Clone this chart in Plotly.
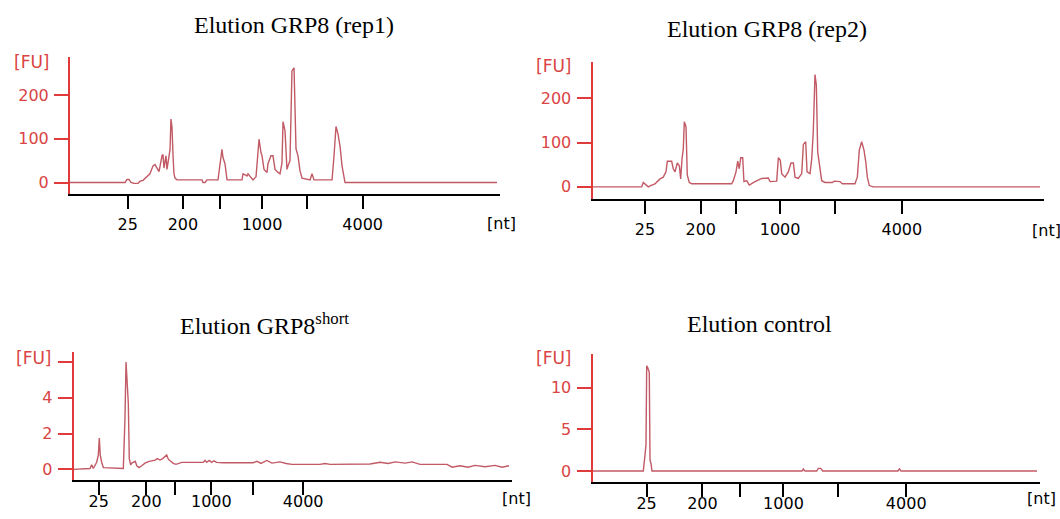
import plotly.graph_objects as go

W, H = 1060, 519

# ---------------- data (migration time [s] vs fluorescence [FU]) ----------------
rep1_time = [20.0, 24.65, 26.40, 26.63, 26.86, 27.09, 27.44, 27.91, 28.14, 28.49, 28.95, 29.30, 29.65, 29.88,
             30.12, 30.35, 30.70, 30.81, 30.93, 31.16, 31.28, 31.51, 31.63, 31.74, 31.86, 31.98, 32.09, 32.21,
             32.44, 35.35, 35.47, 35.70, 35.93, 37.21, 37.44, 37.67, 37.79, 38.02, 38.26, 40.00, 40.12, 40.58,
             40.70, 41.05, 41.28, 41.63, 41.86, 41.98, 42.21, 42.33, 42.56, 42.91, 43.02, 43.37, 43.60, 43.84,
             44.19, 44.42, 44.65, 44.77, 45.00, 45.23, 45.35, 45.58, 45.81, 46.05, 46.28, 46.51, 46.74, 46.98,
             47.91, 48.14, 48.37, 50.47, 50.70, 50.93, 51.16, 51.40, 51.63, 51.98, 69.65]
rep1_fu = [0, 0, 0, 7, 7, 0, -2, -2, 3, 5, 14, 20, 38, 41, 33, 25, 61, 64, 33, 61, 30, 68, 75, 145, 126, 61,
           20, 10, 6, 6, 0, 0, 6, 6, 49, 76, 57, 43, 6, 6, 20, 15, 20, 13, 6, 13, 61, 99, 68, 61, 30, 23, 43,
           61, 61, 30, 23, 20, 45, 139, 118, 30, 38, 50, 255, 262, 77, 61, 27, 10, 6, 20, 6, 6, 61, 128, 111,
           83, 38, 0, 0]

rep2_time = [20.0, 25.45, 25.63, 25.93, 26.18, 26.56, 26.92, 27.48, 27.84, 28.14, 28.29, 28.77, 28.95, 29.14,
             29.40, 29.62, 29.77, 29.92, 30.06, 30.17, 30.36, 30.50, 30.72, 30.99, 35.42, 35.60, 35.90, 36.09,
             36.26, 36.42, 36.64, 36.78, 37.08, 37.37, 38.00, 38.75, 39.48, 39.67, 40.41, 40.59, 40.81, 40.96,
             41.33, 41.69, 41.99, 42.25, 42.44, 42.80, 43.18, 43.36, 43.62, 43.77, 44.10, 44.29, 44.46, 44.65,
             44.80, 44.95, 45.13, 45.39, 45.76, 46.57, 46.79, 47.42, 47.68, 49.08, 49.34, 49.56, 49.82, 50.08,
             50.27, 50.45, 50.67, 51.11, 69.58]
rep2_fu = [0, 0, 10, 5, 0, 4, 7, 18, 22, 34, 58, 58, 41, 34, 54, 48, 18, 64, 86, 147, 136, 27, 10, 7, 7, 14,
           34, 58, 41, 66, 66, 12, 14, 4, 12, 19, 20, 12, 13, 66, 60, 30, 22, 34, 54, 54, 22, 19, 30, 96, 102,
           34, 30, 64, 125, 254, 230, 79, 54, 14, 10, 10, 13, 12, 7, 7, 22, 83, 102, 83, 57, 22, 3, 0, 0]

short_time = [20.0, 21.86, 22.05, 22.24, 22.62, 22.81, 22.92, 23.03, 23.19, 23.38, 25.66, 25.85, 25.97, 26.11,
              26.23, 26.34, 26.50, 26.62, 26.80, 27.03, 27.19, 27.45, 27.76, 28.13, 28.51, 28.90, 29.27, 29.54,
              29.84, 30.15, 30.42, 30.61, 30.79, 31.07, 31.36, 31.67, 31.93, 32.32, 34.78, 34.98, 35.17, 35.47,
              35.74, 36.00, 36.31, 37.03, 40.45, 40.91, 41.37, 42.02, 42.62, 43.53, 44.22, 44.90, 48.10, 48.67,
              49.24, 53.80, 54.96, 55.87, 56.67, 57.81, 58.60, 59.51, 62.59, 63.16, 64.07, 64.98, 65.78, 66.92,
              68.06, 68.86, 69.66]
short_fu = [0, 0.05, 0.25, 0.05, 0.4, 0.8, 1.75, 0.8, 0.4, 0.1, 0.05, 2.85, 6.0, 4.7, 3.7, 0.6, 0.25, 0.35,
            0.4, 0.45, 0.2, 0.1, 0.2, 0.35, 0.43, 0.47, 0.52, 0.6, 0.52, 0.6, 0.7, 0.8, 0.57, 0.43, 0.34, 0.28,
            0.34, 0.39, 0.39, 0.5, 0.39, 0.5, 0.39, 0.48, 0.39, 0.37, 0.37, 0.45, 0.33, 0.5, 0.35, 0.42, 0.33,
            0.28, 0.28, 0.33, 0.28, 0.3, 0.4, 0.33, 0.42, 0.35, 0.42, 0.28, 0.28, 0.12, 0.2, 0.12, 0.22, 0.15,
            0.22, 0.12, 0.2]

control_time = [20.0, 25.67, 25.86, 25.97, 26.05, 26.16, 26.34, 26.42, 26.53, 26.64, 43.39, 43.53, 43.72,
                45.03, 45.21, 45.47, 45.70, 54.10, 54.27, 54.44, 69.62]
control_fu = [0, 0, 1.9, 3.1, 12.6, 12.4, 11.8, 1.3, 0.9, 0, 0, 0.24, 0, 0, 0.32, 0.32, 0, 0, 0.25, 0, 0]

# ladder positions (migration time of ladder fragments) per run
ladder_text = ["25", "200", " ", "1000", " ", "4000"]
rep1_ladder = [26.72, 33.13, 37.41, 42.33, 47.56, 54.03]
rep2_ladder = [25.81, 31.99, 35.92, 40.78, 46.89, 54.27]
short_ladder = [22.85, 28.29, 31.52, 35.70, 40.43, 46.18]
control_ladder = [26.04, 32.27, 36.42, 41.32, 47.36, 55.02]

titles = ["Elution GRP8 (rep1)", "Elution GRP8 (rep2)", "Elution GRP8<sup>short</sup>", "Elution control"]
fu_ticks = [[0, 100, 200], [0, 100, 200], [0, 2, 4, 6], [0, 5, 10]]
fu_ticktext = [["0", "100", "200"], ["0", "100", "200"], ["0", "2", "4", " "], ["0", "5", "10"]]

# ---------------- layout geometry (pixels) ----------------
# (left, right, top, bottom) of each plot box
boxes = [(70, 500, 56.8, 193.7), (592.5, 1043.8, 61.9, 198.7), (73.7, 512, 352, 480.1), (592.5, 1040.4, 353.7, 481.8)]
yranges = [[-25.6, 287.3], [-26.7, 282.5], [-0.60, 6.56], [-1.29, 14.05]]
x_standoff = [2, 2, -7, -7]
title_pos = [(294, 25.4), (767, 28.7), (264, 324), (759, 324)]
fu_pos = [(52, 62), (574, 66), (54, 358), (574, 358)]
nt_pos = [(501, 223), (1046, 230), (516, 498), (1041, 498)]

RED = "#e03a3a"
RED_TXT = "#d94444"
LINE = "#c25a66"

series = [(rep1_time, rep1_fu, rep1_ladder), (rep2_time, rep2_fu, rep2_ladder),
          (short_time, short_fu, short_ladder), (control_time, control_fu, control_ladder)]

fig = go.Figure()
annotations = []
for i, (t, fu, lad) in enumerate(series):
    k = "" if i == 0 else str(i + 1)
    fig.add_trace(go.Scatter(x=t, y=fu, mode="lines", line=dict(color=LINE, width=1.4),
                             xaxis="x" + k, yaxis="y" + k, showlegend=False, hoverinfo="skip"))
    l, r, tp, b = boxes[i]
    fig.layout["xaxis" + k] = dict(
        domain=[l / W, r / W], anchor="y" + k, range=[20, 70], showgrid=False, zeroline=False,
        showline=True, linecolor="black", linewidth=2, ticks="outside", ticklen=13, tickwidth=2,
        tickcolor="black", tickmode="array", tickvals=lad, ticktext=ladder_text, tickangle=0,
        tickfont=dict(family="DejaVu Sans", size=16, color="black"), ticklabelstandoff=x_standoff[i],
        automargin=False, fixedrange=True)
    fig.layout["yaxis" + k] = dict(
        domain=[1 - b / H, 1 - tp / H], anchor="x" + k, range=yranges[i], showgrid=False,
        zeroline=False, showline=True, linecolor=RED, linewidth=2, ticks="outside", ticklen=14,
        tickwidth=2, tickcolor=RED, tickmode="array", tickvals=fu_ticks[i], ticktext=fu_ticktext[i],
        tickfont=dict(family="DejaVu Sans", size=16, color=RED_TXT), ticklabelstandoff=2,
        automargin=False, fixedrange=True)
    tx, ty = title_pos[i]
    annotations.append(dict(text=titles[i], x=tx / W, y=1 - ty / H, xref="paper", yref="paper",
                            xanchor="center", yanchor="middle", showarrow=False,
                            font=dict(family="Liberation Serif", size=24, color="black")))
    fx, fy = fu_pos[i]
    annotations.append(dict(text="[FU]", x=fx / W, y=1 - fy / H, xref="paper", yref="paper",
                            xanchor="right", yanchor="middle", showarrow=False,
                            font=dict(family="DejaVu Sans", size=17, color=RED_TXT)))
    nx, ny = nt_pos[i]
    annotations.append(dict(text="[nt]", x=nx / W, y=1 - ny / H, xref="paper", yref="paper",
                            xanchor="center", yanchor="middle", showarrow=False,
                            font=dict(family="DejaVu Sans", size=16, color="black")))

fig.update_layout(width=W, height=H, margin=dict(l=0, r=0, t=0, b=0, pad=0), paper_bgcolor="white",
                  plot_bgcolor="white", annotations=annotations, showlegend=False)

fig.write_html("out.html", config={"displayModeBar": False})
